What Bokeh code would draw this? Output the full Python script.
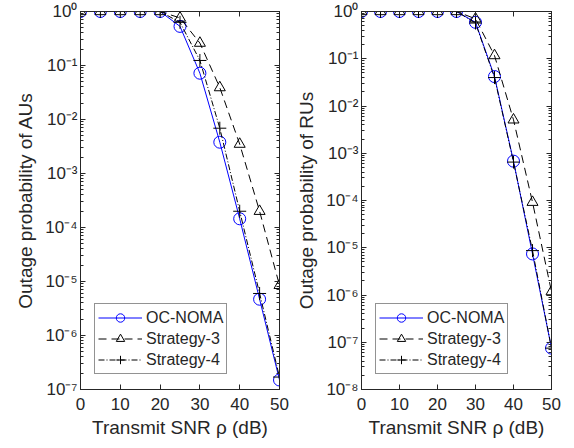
import numpy as np
from bokeh.plotting import figure
from bokeh.layouts import row
from bokeh.models import (Range1d, LogAxis, LinearAxis, FixedTicker, LogTicker,
                          CustomJSTickFormatter, Legend, LegendItem)
from bokeh.embed import file_html
from bokeh.resources import INLINE

snr = [0, 5, 10, 15, 20, 25, 30, 35, 40, 45, 50]

# Left panel: outage probability of AUs
au_oc_noma = [1, 1, 1, 1, 1, 0.53, 0.072, 0.0038, 1.45e-4, 4.7e-6, 1.5e-7]
au_strategy3 = [1, 1, 1, 1, 1, 0.76, 0.26, 0.039, 0.0035, 2.0e-4, 8.5e-6]
au_strategy4 = [1, 1, 1, 1, 1, 0.63, 0.124, 0.0069, 2.0e-4, 6.0e-6, 1.7e-7]

# Right panel: outage probability of RUs
ru_oc_noma = [1, 1, 1, 1, 1, 1, 0.59, 0.042, 6.8e-4, 7.4e-6, 7.5e-8]
ru_strategy3 = [1, 1, 1, 1, 1, 1, 0.70, 0.117, 0.0051, 9.2e-5, 1.18e-6]
ru_strategy4 = [1, 1, 1, 1, 1, 1, 0.57, 0.040, 6.5e-4, 8.7e-6, 7.5e-8]

x_ticks = [0, 10, 20, 30, 40, 50]
series_names = ["OC-NOMA", "Strategy-3", "Strategy-4"]

FONT = "Liberation Sans"
TXT = "#262626"

sup_fmt = CustomJSTickFormatter(code="""
const sup = {'-':'\u207b','0':'\u2070','1':'\u00b9','2':'\u00b2','3':'\u00b3','4':'\u2074',
             '5':'\u2075','6':'\u2076','7':'\u2077','8':'\u2078','9':'\u2079'};
const e = Math.round(Math.log10(tick));
let s = '';
for (const c of String(e)) s += sup[c];
return '10' + s;
""")
blank_fmt = CustomJSTickFormatter(code="return '';")


def style_axis(ax):
    ax.axis_line_color = TXT
    ax.major_tick_line_color = TXT
    ax.minor_tick_line_color = TXT
    ax.major_tick_in = 5
    ax.major_tick_out = 0
    ax.minor_tick_in = 3
    ax.minor_tick_out = 0
    ax.major_label_text_font = FONT
    ax.major_label_text_font_size = "17px"
    ax.major_label_text_color = TXT
    ax.axis_label_text_font = FONT
    ax.axis_label_text_font_size = "19px"
    ax.axis_label_text_font_style = "normal"
    ax.axis_label_text_color = TXT


def make_panel(ylabel, ymin, y1, y2, y3, width, mbl, mbr):
    p = figure(width=width, height=445, y_axis_type="log",
               x_range=Range1d(0, 50), y_range=Range1d(ymin, 1),
               output_backend="svg", toolbar_location=None,
               min_border_left=mbl, min_border_right=mbr,
               min_border_top=11, min_border_bottom=56)
    p.xgrid.visible = False
    p.ygrid.visible = False
    p.outline_line_color = TXT
    p.outline_line_width = 1
    p.background_fill_color = "white"
    p.border_fill_color = "white"

    p.xaxis.ticker = FixedTicker(ticks=x_ticks)
    p.xaxis.axis_label = "Transmit SNR \u03c1 (dB)"
    p.yaxis.axis_label = ylabel
    p.yaxis.ticker = LogTicker(num_minor_ticks=10)
    p.yaxis.formatter = sup_fmt
    for ax in p.xaxis + p.yaxis:
        style_axis(ax)
    p.xaxis.minor_tick_line_color = None
    p.xaxis.major_label_standoff = 8
    p.xaxis.axis_label_standoff = 4
    p.yaxis.major_label_standoff = 3
    p.yaxis.axis_label_standoff = 6

    # mirrored axes (box)
    top = LinearAxis(ticker=FixedTicker(ticks=x_ticks), formatter=blank_fmt)
    style_axis(top)
    top.minor_tick_line_color = None
    top.major_label_standoff = 0
    p.add_layout(top, "above")
    right = LogAxis(ticker=LogTicker(num_minor_ticks=10), formatter=blank_fmt)
    style_axis(right)
    right.major_label_standoff = 0
    p.add_layout(right, "right")

    l1 = p.line(snr, y1, line_color="#0000FF", line_width=1)
    s1 = p.scatter(snr, y1, marker="circle", size=12, fill_color=None,
                   line_color="#0000FF", line_width=1)
    l2 = p.line(snr, y2, line_color="black", line_width=1, line_dash="8 5")
    s2 = p.scatter(snr, y2, marker="triangle", size=11, fill_color=None,
                   line_color="black", line_width=1)
    l3 = p.line(snr, y3, line_color="black", line_width=1, line_dash="6 2 1 2")
    s3 = p.scatter(snr, y3, marker="cross", size=13, fill_color=None,
                   line_color="black", line_width=1)

    legend = Legend(items=[LegendItem(label=series_names[0], renderers=[l1, s1]),
                           LegendItem(label=series_names[1], renderers=[l2, s2]),
                           LegendItem(label=series_names[2], renderers=[l3, s3])],
                    location=(14, 15))
    legend.label_text_font = FONT
    legend.label_text_font_size = "16px"
    legend.label_text_color = TXT
    legend.glyph_width = 44
    legend.glyph_height = 21
    legend.label_height = 21
    legend.label_standoff = 4
    legend.spacing = 0
    legend.padding = 3
    legend.margin = 0
    legend.border_line_color = TXT
    legend.border_line_width = 1
    legend.background_fill_color = "white"
    legend.background_fill_alpha = 1
    p.add_layout(legend, "center")
    return p


left = make_panel("Outage probability of AUs", 1e-7,
                  au_oc_noma, au_strategy3, au_strategy4, 293, 80, 14)
right = make_panel("Outage probability of RUs", 1e-8,
                   ru_oc_noma, ru_strategy3, ru_strategy4, 270, 58, 12)

layout = row(left, right)
open("out.html", "w").write(file_html(layout, INLINE))
